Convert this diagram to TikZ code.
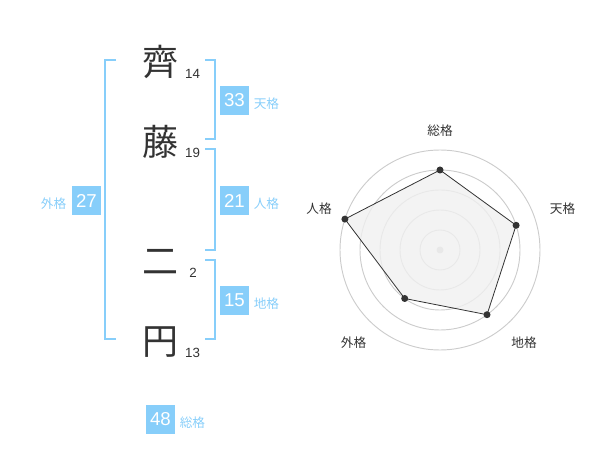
\documentclass[tikz,border=0pt]{standalone}
\usepackage{fontspec}
\setmainfont{Liberation Sans}
\newfontfamily\cjk{Noto Sans CJK JP}
\definecolor{skyline}{RGB}{135,206,250}
\definecolor{inkgray}{RGB}{51,51,51}
\definecolor{ringgray}{RGB}{204,204,204}
\definecolor{areagray}{RGB}{240,240,240}
\tikzset{
  kanji/.style={font=\cjk\fontsize{27}{27}\selectfont, text=inkgray, inner sep=0pt},
  stroke/.style={font=\fontsize{10}{10}\selectfont, text=inkgray, inner sep=0pt},
  scorebox/.style={fill=skyline, text=white, minimum width=21.75pt, minimum height=21.75pt, inner sep=0pt, font=\fontsize{14}{14}\selectfont},
  kakulabel/.style={font=\cjk\fontsize{9.5}{9.5}\selectfont, text=skyline, inner sep=0pt},
  bracket/.style={draw=skyline, line width=1.5pt},
  ring/.style={draw=ringgray, line width=0.7pt},
  axislabel/.style={font=\cjk\fontsize{9.5}{9.5}\selectfont, text=inkgray, inner sep=0pt},
  vertex/.style={circle, fill=inkgray, inner sep=0pt, minimum size=5.25pt}
}
\begin{document}
\begin{tikzpicture}[x=0.75pt,y=0.75pt,yscale=-1,xscale=1]
\useasboundingbox (0,0) rectangle (600,470);

%Brackets
\draw [bracket] (116,60) -- (105,60) -- (105,339.5) -- (116,339.5) ;
\draw [bracket] (205,60) -- (214.5,60) -- (214.5,139.5) -- (205,139.5) ;
\draw [bracket] (205,149.5) -- (214.5,149.5) -- (214.5,250) -- (205,250) ;
\draw [bracket] (205,260) -- (214.5,260) -- (214.5,339.5) -- (205,339.5) ;

% Text Node
\node [kanji] (sai) at (160,62) {齊};
\node [stroke] (sai14) at (192.5,73.5) {14};
\node [kanji] (fuji) at (160,142) {藤};
\node [stroke] (fuji19) at (192.5,153) {19};
\node [kanji] (ni) at (160,262) {二};
\node [stroke] (ni2) at (193,273) {2};
\node [kanji] (en) at (160,342) {円};
\node [stroke] (en13) at (192.5,353) {13};

% Score boxes
\node [scorebox] (ten) at (234.5,100.5) {33};
\node [kakulabel, anchor=west] (tenlbl) at (253.5,104) {天格};
\node [scorebox] (jin) at (234.5,200.5) {21};
\node [kakulabel, anchor=west] (jinlbl) at (253.5,204) {人格};
\node [scorebox] (chi) at (234.5,300.5) {15};
\node [kakulabel, anchor=west] (chilbl) at (253.5,304) {地格};
\node [scorebox] (gai) at (86.5,200.5) {27};
\node [kakulabel, anchor=east] (gailbl) at (66.5,204) {外格};
\node [scorebox] (so) at (160.5,419.5) {48};
\node [kakulabel, anchor=west] (solbl) at (179.5,423) {総格};

%Radar rings
\foreach \r in {20,40,60,80,100}
  \draw [ring] (440,250) circle (\r) ;
\fill [ringgray] (440,250) circle (3.5) ;

%Radar area
\coordinate (pso) at (440,170) ;
\coordinate (pten) at (516.1,225.3) ;
\coordinate (pchi) at (487,314.7) ;
\coordinate (pgai) at (404.7,298.5) ;
\coordinate (pjin) at (344.9,219.1) ;
\draw [draw=inkgray, fill=areagray, fill opacity=0.8, line width=0.6pt] (pso) -- (pten) -- (pchi) -- (pgai) -- (pjin) -- cycle ;
\foreach \p in {pso,pten,pchi,pgai,pjin}
  \node [vertex] at (\p) {};

% Axis labels
\node [axislabel] (axso) at (440,131) {総格};
\node [axislabel] (axten) at (562.5,209) {天格};
\node [axislabel] (axchi) at (524,343) {地格};
\node [axislabel] (axgai) at (353.5,343) {外格};
\node [axislabel] (axjin) at (319,209) {人格};

\end{tikzpicture}
\end{document}
